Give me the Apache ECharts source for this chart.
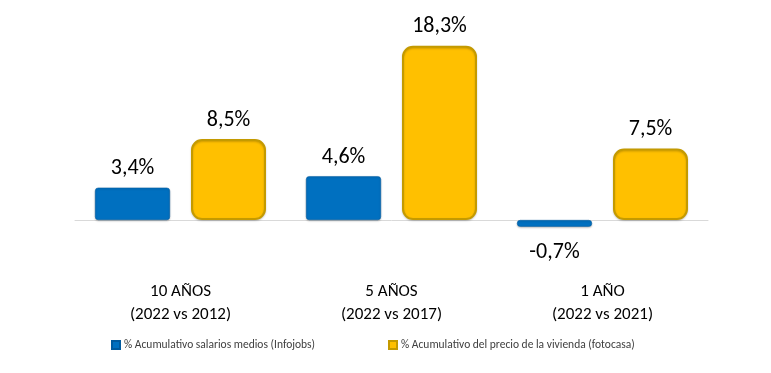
<!DOCTYPE html>
<html><head><meta charset="utf-8">
<script src="https://cdn.jsdelivr.net/npm/echarts@6/dist/echarts.min.js"></script>
<style>html,body{margin:0;padding:0;background:#fff}#c{width:771px;height:373px}</style>
</head><body><div id="c"></div>
<script>
const categories = ['10 AÑOS\n(2022 vs 2012)', '5 AÑOS\n(2022 vs 2017)', '1 AÑO\n(2022 vs 2021)'];
const seriesNames = ['% Acumulativo salarios medios (Infojobs)', '% Acumulativo del precio de la vivienda (fotocasa)'];
const salarios = [3.4, 4.6, -0.7];
const vivienda = [8.5, 18.3, 7.5];

const FONT = 'Carlito, Lato, "Liberation Sans", sans-serif';
const fmt = p => String(p.value).replace('.', ',') + '%';
function mk(vals) {
  return vals.map(v => v < 0 ? {value: v, label: {position: 'bottom', distance: 15}} : v);
}
const chart = echarts.init(document.getElementById('c'));
chart.setOption({
  animation: false,
  grid: {left: 75, right: 63, top: 20, height: 228.6},
  legend: {
    left: 106, top: 334, itemWidth: 8, itemHeight: 8, itemGap: 73, icon: 'rect',
    textStyle: {fontFamily: FONT, fontSize: 11.5, color: '#404040', padding: [0,0,0,-1]},
    data: seriesNames
  },
  xAxis: {
    type: 'category', data: categories,
    axisLine: {onZero: true, lineStyle: {color: '#d9d9d9', width: 1}},
    axisTick: {show: false},
    axisLabel: {margin: 32, fontFamily: FONT, fontSize: 17, color: '#000', lineHeight: 23}
  },
  yAxis: {type: 'value', min: -3, max: 21, show: false, splitLine: {show: false}},
  series: [
    {
      name: seriesNames[0], type: 'bar', data: mk(salarios), barWidth: 75, barGap: '28%',
      itemStyle: {color: '#0070C0', borderRadius: 3, borderColor: '#005a9e', borderWidth: 0.5,
        shadowColor: 'rgba(0,0,0,0.25)', shadowBlur: 2, shadowOffsetY: 1},
      label: {show: true, position: 'top', distance: 8, formatter: fmt, fontFamily: FONT, fontSize: 22, color: '#000'}
    },
    {
      name: seriesNames[1], type: 'bar', data: mk(vivienda), barWidth: 75,
      itemStyle: {color: '#FFC000', borderRadius: 10, borderColor: '#C49A00', borderWidth: 2,
        shadowColor: 'rgba(0,0,0,0.2)', shadowBlur: 2, shadowOffsetY: 1},
      label: {show: true, position: 'top', distance: 8, formatter: fmt, fontFamily: FONT, fontSize: 22, color: '#000'}
    }
  ]
});
</script></body></html>
